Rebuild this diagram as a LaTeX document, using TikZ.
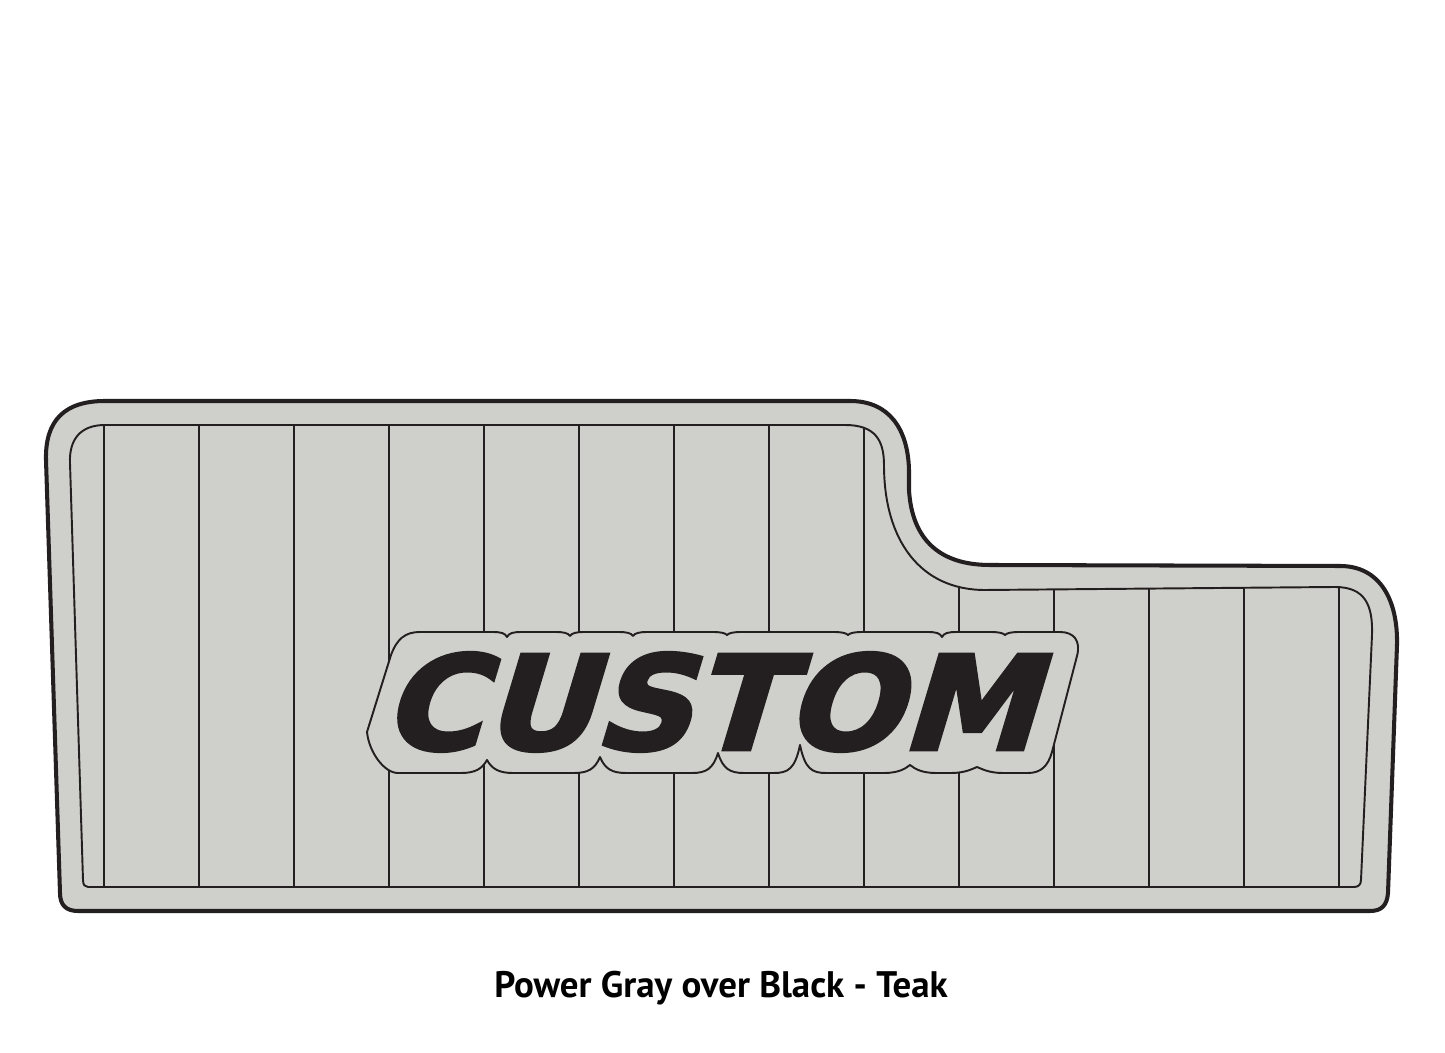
\documentclass[tikz,border=0pt]{standalone}
\usepackage{fontspec}
\usepackage{tikz}

\newfontfamily\logofont{DejaVu Sans Bold}[FakeSlant=0.3,FakeBold=3,FakeStretch=1.05]
\newfontfamily\captionfont{PT Sans Bold}
\definecolor{alfombra}{RGB}{207,208,203}
\definecolor{negro}{RGB}{35,31,32}

\newcommand{\contornointerior}{(105,425) -- (845,425)
        .. controls (875,425) and (884,440) .. (884,465)
        .. controls (884,540) and (920,590) .. (985,590)
        -- (1335,587) .. controls (1365,587) and (1373,605) .. (1372,635)
        -- (1361,880) .. controls (1361,885) and (1358,887) .. (1354,887)
        -- (88,887) .. controls (85,887) and (83,885) .. (83,880)
        -- (70,463) .. controls (69,440) and (80,425) .. (105,425) -- cycle}

\begin{document}
\begin{tikzpicture}[x=0.02cm, y=-0.02cm,
    borde/.style={draw=negro, line width=2.3pt, line join=round},
    linea/.style={draw=negro, line width=1.1pt, line join=round}]

    \fill[white] (0,0) rectangle (1445,1053);
    \useasboundingbox (0,0) rectangle (1445,1053);

    %contorno exterior
    \draw[borde, fill=alfombra] (105,401) -- (850,401)
        .. controls (890,401) and (908,430) .. (909,470) -- (909,490)
        .. controls (912,540) and (940,565) .. (990,565)
        -- (1340,566) .. controls (1380,566) and (1398,600) .. (1397,645)
        -- (1388,893) .. controls (1387,905) and (1382,911) .. (1370,911)
        -- (78,911) .. controls (66,911) and (60,905) .. (60,893)
        -- (46,460) .. controls (45,420) and (65,401) .. (105,401) -- cycle;

    %contorno interior y ranuras
    \draw[linea] \contornointerior;
    \begin{scope}
    \clip \contornointerior;
    \foreach \x in {104,199,...,1339}{
    \draw[linea] (\x,400) -- (\x,900);
    }
    \end{scope}

    %placa del logo
    \draw[linea, fill=alfombra] (420,632)
        \foreach \c/\d in {507/637,570/636,633/636,727/635,848/635,942/637,1005/635}{
        -- (\c-15,632) .. controls (\c-6,632) and (\c-2,633) .. (\c,\d)
        .. controls (\c+2,633) and (\c+6,632) .. (\c+15,632)}
        -- (1060,632) .. controls (1074,632) and (1081,641) .. (1077,656)
        -- (1052,752) .. controls (1048,766) and (1041,773) .. (1028,773)
        \foreach \c/\d in {977/767,910/765,800/745,718/753,600/757,487/760}{
        -- (\c+26,773) .. controls (\c+12,773) and (\c+5,769) .. (\c,\d)
        .. controls (\c-5,769) and (\c-12,773) .. (\c-26,773)}
        -- (398,773) .. controls (384,773) and (369,752) .. (367,732)
        -- (391,655) .. controls (397,639) and (405,632) .. (420,632) -- cycle;

    \node[text=negro, inner sep=0, font=\logofont\fontsize{74}{80}\selectfont] (logo) at (708,702) {CUSTOM};

    %leyenda
    \node[text=black, inner sep=0, font=\captionfont\fontsize{21}{26}\selectfont] (leyenda) at (721,988) {Power Gray over Black - Teak};

\end{tikzpicture}
\end{document}
